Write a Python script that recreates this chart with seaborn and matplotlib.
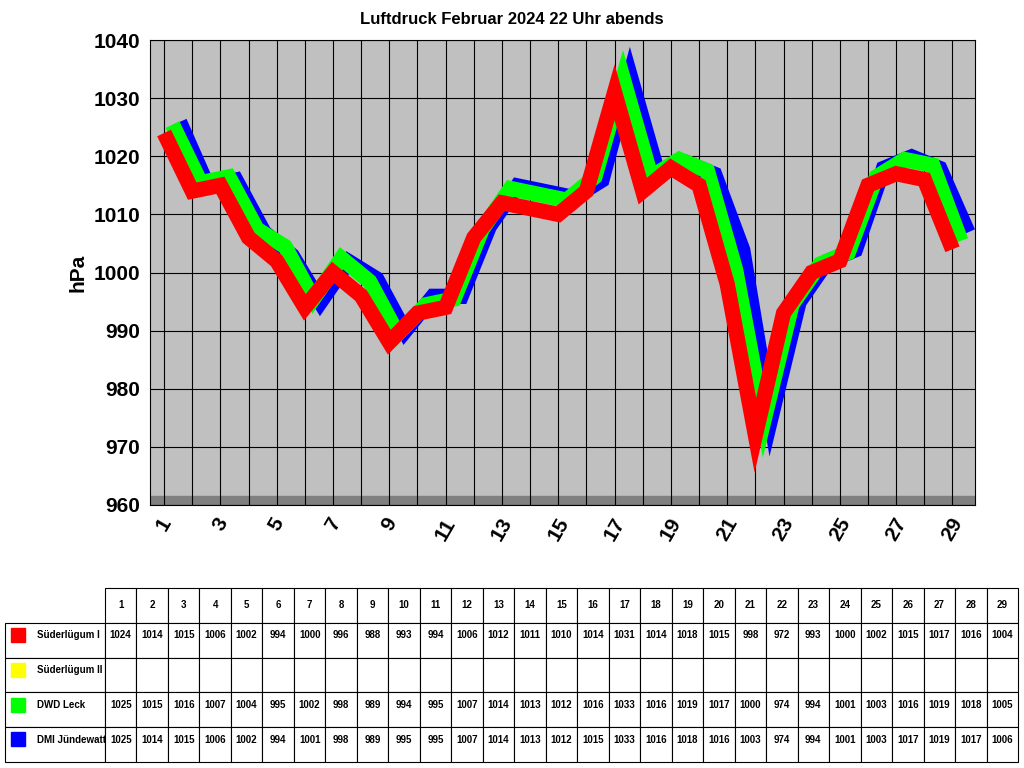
import matplotlib
matplotlib.use("Agg")
import matplotlib.pyplot as plt
import seaborn as sns
import pandas as pd
from matplotlib.patches import Rectangle

days = list(range(1, 30))
suederluegum1 = [1024,1014,1015,1006,1002,994,1000,996,988,993,994,1006,1012,1011,1010,1014,1031,1014,1018,1015,998,972,993,1000,1002,1015,1017,1016,1004]
dwd_leck = [1025,1015,1016,1007,1004,995,1002,998,989,994,995,1007,1014,1013,1012,1016,1033,1016,1019,1017,1000,974,994,1001,1003,1016,1019,1018,1005]
dmi = [1025,1014,1015,1006,1002,994,1001,998,989,995,995,1007,1014,1013,1012,1015,1033,1016,1018,1016,1003,974,994,1001,1003,1017,1019,1017,1006]
names = ["Süderlügum I", "Süderlügum II", "DWD Leck", "DMI Jündewatt"]
colors = ["#ff0000", "#ffff00", "#00ff00", "#0000ff"]

sns.set_style("white")
plt.rcParams['font.family'] = ['Liberation Sans', 'DejaVu Sans']
plt.rcParams['text.color'] = 'black'
plt.rcParams['xtick.color'] = 'black'
plt.rcParams['ytick.color'] = 'black'
plt.rcParams['axes.labelcolor'] = 'black'
fig = plt.figure(figsize=(10.24, 7.68), dpi=100)
fig.patch.set_facecolor("white")
ax = fig.add_axes([150/1024, 1-505/768, 825/1024, 465/768])
ax.set_facecolor("#c0c0c0")

ax.axhspan(960, 961.5, color="#808080", zorder=0)

series = [(dmi, colors[3], 0.55, 0.9), (dwd_leck, colors[2], 0.3, 0.45), (suederluegum1, colors[0], 0.0, 0.0)]
for vals, c, dx, dy in series:
    df = pd.DataFrame({"day": [d + dx for d in days], "v": [v + dy for v in vals]})
    sns.lineplot(data=df, x="day", y="v", color=c, lw=11, ax=ax, solid_joinstyle="miter",
                 solid_capstyle="butt", zorder=3)

ax.set_xlim(0.5, 29.8)
ax.set_ylim(960, 1040)
ax.set_yticks(range(960, 1041, 10))
ax.set_xticks(range(1, 30))
ax.set_xticklabels([str(d) if d % 2 == 1 else "" for d in days], rotation=60, fontsize=15, fontweight="bold")
ax.tick_params(axis="y", labelsize=15)
for t in ax.get_yticklabels():
    t.set_fontweight("bold")
ax.grid(True, color="black", lw=0.8)
ax.set_axisbelow(True)
for s in ax.spines.values():
    s.set_color("black")
ax.set_xlabel("")
ax.set_ylabel("hPa", fontsize=15, fontweight="bold")
fig.text(0.5, 1-20/768, "Luftdruck Februar 2024 22 Uhr abends", ha="center", va="center",
         fontsize=12, fontweight="bold", color="black")

tax = fig.add_axes([5/1024, 1-762/768, 1013/1024, 174/768])
tax.axis("off")
rows = [suederluegum1, [None]*29, dwd_leck, dmi]
cell_text = [[""] + [str(d) for d in days]]
for n, r in zip(names, rows):
    cell_text.append(["        " + n] + ["" if v is None else str(v) for v in r])
lw0 = 100/1013
cw = (1 - lw0) / 29
tbl = tax.table(cellText=cell_text, colWidths=[lw0] + [cw]*29, bbox=[0, 0, 1, 1], cellLoc="center")
tbl.auto_set_font_size(False)
for (r, c), cell in tbl.get_celld().items():
    cell.set_fontsize(7)
    cell.get_text().set_fontweight("bold")
    cell.get_text().set_color("black")
    cell.set_linewidth(0.8)
    if c == 0:
        cell.get_text().set_ha("left")
        cell.get_text().set_va("bottom")
    elif r > 0:
        cell.get_text().set_va("bottom")
    if r == 0 and c == 0:
        cell.visible_edges = ""
rh = 1/5
for i, col in enumerate(colors):
    y0 = 1 - rh*(i+2) + rh*0.45
    tax.add_patch(Rectangle((0.006, y0), 0.014, rh*0.4, color=col, transform=tax.transAxes, zorder=5))

fig.savefig("out.png", dpi=100)
